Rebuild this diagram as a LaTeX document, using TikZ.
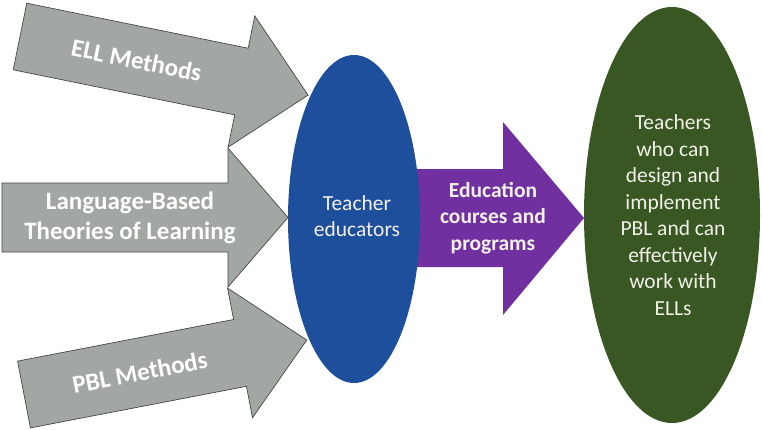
\documentclass[tikz,border=0pt]{standalone}
\usepackage{fontspec}
\setmainfont{Carlito}
\definecolor{arrgray}{RGB}{163,167,164}
\definecolor{arredge}{RGB}{70,72,70}
\definecolor{edblue}{RGB}{30,79,156}
\definecolor{edpurple}{RGB}{112,48,160}
\definecolor{edgreen}{RGB}{56,87,35}
\definecolor{lighttext}{RGB}{242,240,232}
\begin{document}
\begin{tikzpicture}[x=1pt,y=-1pt,
  grayarrow/.style={fill=arrgray,draw=arredge,line width=0.7pt,line join=miter},
  graytext/.style={text=white,font=\bfseries\fontsize{25}{30}\selectfont,align=center,inner sep=0pt},
  midtext/.style={text=lighttext,font=\fontsize{21.5}{26.5}\selectfont,align=center,inner sep=0pt}]
\useasboundingbox (0,0) rectangle (762,429);
% top arrow
\begin{scope}[shift={(20,36.5)},rotate=-11.5]
  \draw[grayarrow] (0,-34) -- (226,-34) -- (226,-67) -- (294,0) -- (226,67) -- (226,34) -- (0,34) -- cycle;
  \node[graytext,transform shape] (ell) at (119,0) {ELL Methods};
\end{scope}
% middle arrow
\begin{scope}[shift={(2,217.5)}]
  \draw[grayarrow] (0,-34.5) -- (226,-34.5) -- (226,-69.5) -- (286,0) -- (226,69.5) -- (226,34.5) -- (0,34.5) -- cycle;
  \node[graytext] (lang) at (128,0) {Language-Based\\Theories of Learning};
\end{scope}
% bottom arrow
\begin{scope}[shift={(24,394.5)},rotate=10.9]
  \draw[grayarrow] (0,-34) -- (220,-34) -- (220,-66) -- (288,0) -- (220,66) -- (220,34) -- (0,34) -- cycle;
  \node[graytext,transform shape] (pbl) at (118,0) {PBL Methods};
\end{scope}
% purple arrow
\fill[edpurple] (400,169) -- (503,169) -- (503,122) -- (584,218) -- (503,315) -- (503,267) -- (400,267) -- cycle;
\node[midtext,font=\bfseries\fontsize{21.5}{26.5}\selectfont] (courses) at (493,218) {Education\\courses and\\programs};
% blue ellipse
\fill[edblue] (354,219) ellipse [x radius=66pt, y radius=164pt];
\node[midtext] (educ) at (357,216) {Teacher\\educators};
% green ellipse
\fill[edgreen] (672,215) ellipse [x radius=88pt, y radius=208pt];
\node[midtext,text=lighttext] (teachers) at (673,215) {Teachers\\who can\\design and\\implement\\PBL and can\\effectively\\work with\\ELLs};
\end{tikzpicture}
\end{document}
